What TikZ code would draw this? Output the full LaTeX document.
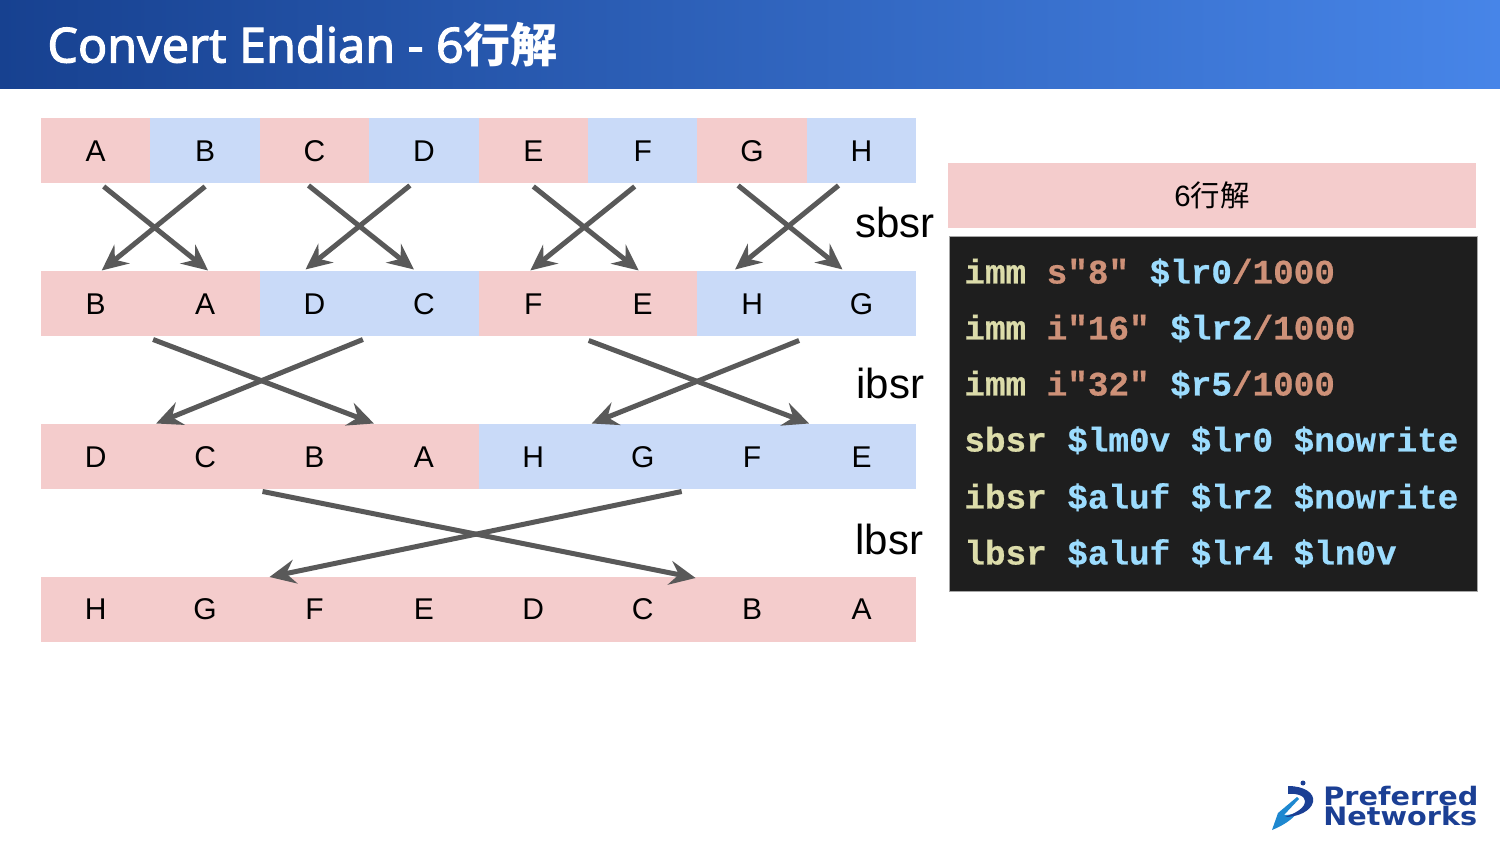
\documentclass[tikz,border=0pt]{standalone}
\usepackage{fontspec}
\setmainfont{Liberation Sans}
\setmonofont[BoldFeatures={FakeBold=0.6}]{Liberation Mono}
\newfontfamily\cjk{Noto Sans CJK JP}
\newfontfamily\titlefont[FakeBold=2.2]{Noto Sans}
\newfontfamily\logofont[FakeStretch=1.13]{DejaVu Sans}
\usepackage{tikz}
\usetikzlibrary{ arrows.meta, calc, positioning }
\definecolor{cellred}{HTML}{F4CCCC}
\definecolor{cellblue}{HTML}{C9DAF8}
\definecolor{swapgray}{HTML}{595959}
\definecolor{codebg}{HTML}{1E1E1E}
\definecolor{codeop}{HTML}{DCDCAA}
\definecolor{codeimm}{HTML}{CE9178}
\definecolor{codereg}{HTML}{9CDCFE}
\definecolor{barleft}{HTML}{174190}
\definecolor{barright}{HTML}{4785E8}
\definecolor{logodark}{HTML}{1B3F94}
\definecolor{logolight}{HTML}{1E88D0}
\newcommand{\op}[1]{\textcolor{codeop}{#1}}
\newcommand{\imm}[1]{\textcolor{codeimm}{#1}}
\newcommand{\reg}[1]{\textcolor{codereg}{#1}}
\tikzset{
  >={Stealth[length=13pt,width=12pt,inset=4.5pt]},
  cell/.style={minimum width=54.7pt, minimum height=32.5pt, inner sep=0pt, outer sep=0pt,
    font=\fontsize{15}{18}\selectfont, text=black},
  red/.style={cell, fill=cellred},
  blue/.style={cell, fill=cellblue},
  swap/.style={->, draw=swapgray, line width=2.5pt},
  oplabel/.style={anchor=base west, inner sep=0pt, font=\fontsize{21}{25}\selectfont},
  codeline/.style={anchor=base west, inner sep=0pt, font=\ttfamily\bfseries\fontsize{17.15}{20}\selectfont},
  logotext/.style={anchor=base west, inner sep=0pt, text=logodark, font=\logofont\bfseries\fontsize{12.7}{14}\selectfont},
}

\begin{document}
\begin{tikzpicture}[x=0.5pt, y=-0.5pt]
  \useasboundingbox (0,0) rectangle (1500,844);
  % Title bar ---------------------------------
  \node[minimum width=750pt, minimum height=44.4pt, inner sep=0pt, outer sep=0pt,
    left color=barleft, right color=barright, anchor=north west] (bar) at (0,0) {};
  \node[anchor=base west, inner sep=0pt, text=white, font=\titlefont\fontsize{24.2}{28}\selectfont]
    (title) at (47,62.5) {Convert Endian - 6{\cjk\bfseries\fontsize{23.5}{28}\selectfont 行解}};

  % Cell rows ---------------------------------
  \node[red, anchor=north west] (ta) at (41,118.5) {A};
  \node[blue, right=0pt of ta] (tb) {B};
  \node[red, right=0pt of tb] (tc) {C};
  \node[blue, right=0pt of tc] (td) {D};
  \node[red, right=0pt of td] (te) {E};
  \node[blue, right=0pt of te] (tf) {F};
  \node[red, right=0pt of tf] (tg) {G};
  \node[blue, right=0pt of tg] (th) {H};

  \node[red, anchor=north west] (sb) at (41,271.5) {B};
  \node[red, right=0pt of sb] (sa) {A};
  \node[blue, right=0pt of sa] (sd) {D};
  \node[blue, right=0pt of sd] (sc) {C};
  \node[red, right=0pt of sc] (sf) {F};
  \node[red, right=0pt of sf] (se) {E};
  \node[blue, right=0pt of se] (sh) {H};
  \node[blue, right=0pt of sh] (sg) {G};

  \node[red, anchor=north west] (id) at (41,424.5) {D};
  \node[red, right=0pt of id] (ic) {C};
  \node[red, right=0pt of ic] (ib) {B};
  \node[red, right=0pt of ib] (ia) {A};
  \node[blue, right=0pt of ia] (ih) {H};
  \node[blue, right=0pt of ih] (ig) {G};
  \node[blue, right=0pt of ig] (if) {F};
  \node[blue, right=0pt of if] (ie) {E};

  \node[red, anchor=north west] (lh) at (41,577) {H};
  \node[red, right=0pt of lh] (lg) {G};
  \node[red, right=0pt of lg] (lf) {F};
  \node[red, right=0pt of lf] (le) {E};
  \node[red, right=0pt of le] (ld) {D};
  \node[red, right=0pt of ld] (lc) {C};
  \node[red, right=0pt of lc] (lb) {B};
  \node[red, right=0pt of lb] (la) {A};

  % Swaps -------------------------------------
  \draw[swap] ([shift={(8,3)}]ta.south) -- ([shift={(3,-1)}]sa.north);
  \draw[swap] ([shift={(0,3)}]tb.south) -- ([shift={(6,-1)}]sb.north);
  \draw[swap] ([shift={(-6,2)}]tc.south) -- ([shift={(-10,-2)}]sc.north);
  \draw[swap] ([shift={(-14,2)}]td.south) -- ([shift={(-9,-2)}]sd.north);
  \draw[swap] ([shift={(0,3)}]te.south) -- ([shift={(-4,-1)}]se.north);
  \draw[swap] ([shift={(-8,3)}]tf.south) -- ([shift={(-3,-1)}]sf.north);
  \draw[swap] ([shift={(-14,2)}]tg.south) -- ([shift={(-19,-2)}]sg.north);
  \draw[swap] ([shift={(-23,2)}]th.south) -- ([shift={(-17,-2)}]sh.north);

  \draw[swap] ([shift={(-52,3)}]sa.south) -- ([shift={(-50,-1)}]ia.north);
  \draw[swap] ([shift={(-61,3)}]sc.south) -- ([shift={(-49,-1)}]ic.north);
  \draw[swap] ([shift={(-54,4)}]se.south) -- ([shift={(57,-1)}]if.north);
  \draw[swap] ([shift={(47,4)}]sh.south) -- ([shift={(-51,-1)}]ig.north);

  \draw[swap] ([shift={(-52,2)}]ib.south) -- ([shift={(-56.5,1)}]lb.north);
  \draw[swap] ([shift={(39,2)}]ig.south) -- ([shift={(-45,0)}]lf.north);

  % Labels ------------------------------------
  \node[oplabel] (sbsr) at (855,238) {sbsr};
  \node[oplabel] (ibsr) at (856,399) {ibsr};
  \node[oplabel] (lbsr) at (855,555) {lbsr};

  % Code panel --------------------------------
  \node[fill=cellred, minimum width=264pt, minimum height=32.5pt, inner sep=0pt, outer sep=0pt,
    font=\fontsize{14.7}{18}\selectfont, anchor=north west] (head) at (948,163) {6{\cjk 行解}};
  \node[fill=codebg, draw=gray!70, line width=0.4pt, minimum width=264pt, minimum height=177.5pt,
    inner sep=0pt, outer sep=0pt, anchor=north west] (panel) at (949,236) {};
  \node[codeline] (code1) at (964,283.5) {\op{imm} \imm{s"8"} \reg{\$lr0}\imm{/1000}};
  \node[codeline] (code2) at (964,339.5) {\op{imm} \imm{i"16"} \reg{\$lr2}\imm{/1000}};
  \node[codeline] (code3) at (964,395.5) {\op{imm} \imm{i"32"} \reg{\$r5}\imm{/1000}};
  \node[codeline] (code4) at (964,451.5) {\op{sbsr} \reg{\$lm0v \$lr0 \$nowrite}};
  \node[codeline] (code5) at (964,508.5) {\op{ibsr} \reg{\$aluf \$lr2 \$nowrite}};
  \node[codeline] (code6) at (964,564.5) {\op{lbsr} \reg{\$aluf \$lr4 \$ln0v}};

  % Logo --------------------------------------
  \node[logotext] (pref) at (1323,805.5) {Preferred};
  \node[logotext] (netw) at (1323,825.5) {Networks};
  \fill[logolight] (1278,813) -- (1297,797) -- (1299,799) -- (1284,815)
    .. controls (1290,815) and (1294,814) .. (1298,812)
    .. controls (1292,820) and (1282,826) .. (1272,830) -- cycle;
  \fill[logodark] (1288,786) .. controls (1304,786) and (1315,793) .. (1313,802)
    .. controls (1311,811) and (1298,817) .. (1285,817)
    .. controls (1296,813) and (1305,808) .. (1305,801)
    .. controls (1305,796) and (1297,793) .. (1288,794) -- cycle;
  \fill[logodark] (1303,783) circle (2.5);
\end{tikzpicture}
\end{document}
